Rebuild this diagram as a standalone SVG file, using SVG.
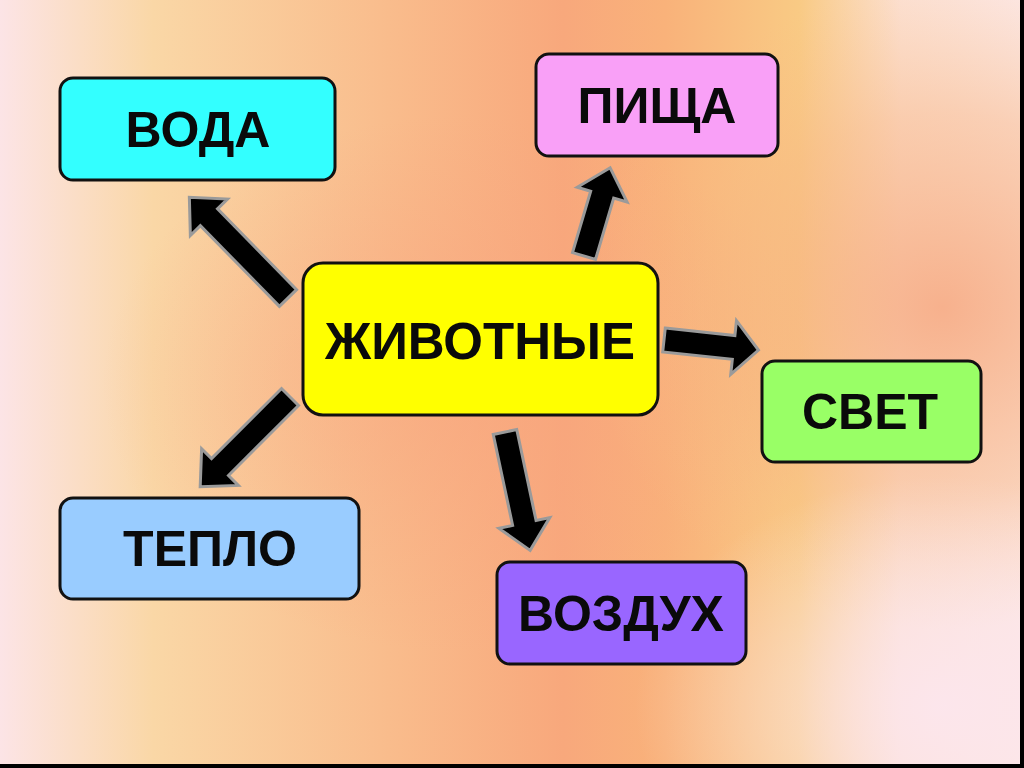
<svg xmlns="http://www.w3.org/2000/svg" width="1024" height="768" viewBox="0 0 1024 768">
<defs>
<linearGradient id="bg" x1="0" y1="0" x2="1" y2="0">
<stop offset="0" stop-color="#FCE4E6"/>
<stop offset="0.15" stop-color="#FAD7A6"/>
<stop offset="0.38" stop-color="#F9BC8C"/>
<stop offset="0.55" stop-color="#F8A87C"/>
<stop offset="0.65" stop-color="#F9B27A"/>
<stop offset="0.78" stop-color="#F9CA84"/>
<stop offset="0.88" stop-color="#FCE0D2"/>
<stop offset="1" stop-color="#FCE6E2"/>
</linearGradient>
<radialGradient id="glow1" cx="0.92" cy="0.4" r="0.35" gradientTransform="translate(0.92 0.4) scale(1 1.2) translate(-0.92 -0.4)">
<stop offset="0" stop-color="#F6A880" stop-opacity="0.85"/>
<stop offset="0.6" stop-color="#F7B583" stop-opacity="0.45"/>
<stop offset="1" stop-color="#F8C088" stop-opacity="0"/>
</radialGradient>
<radialGradient id="glow2" cx="0.92" cy="0.92" r="0.3">
<stop offset="0" stop-color="#FCE6EE" stop-opacity="0.9"/>
<stop offset="1" stop-color="#FCE6EE" stop-opacity="0"/>
</radialGradient>
<radialGradient id="glow3" cx="0.45" cy="0.5" r="0.35">
<stop offset="0" stop-color="#F8A47E" stop-opacity="0.6"/>
<stop offset="1" stop-color="#F8A47E" stop-opacity="0"/>
</radialGradient>
</defs>
<style>
.box{stroke:#111;stroke-width:3}
.lbl{font-family:"Liberation Sans",Arial,sans-serif;font-weight:bold;font-size:50px;fill:#0a0a0a;text-anchor:middle;dominant-baseline:central}
.arr{fill:#000;stroke:#9a9a9a;stroke-width:3;stroke-linejoin:miter}
</style>
<rect x="0" y="0" width="1024" height="768" fill="url(#bg)"/>
<rect x="0" y="0" width="1024" height="768" fill="url(#glow3)"/>
<rect x="0" y="0" width="1024" height="768" fill="url(#glow1)"/>
<rect x="0" y="0" width="1024" height="768" fill="url(#glow2)"/>
<rect x="1020" y="0" width="4" height="768" fill="#000"/>
<rect x="0" y="764" width="1024" height="4" fill="#000"/>

<g id="connectors">
<polygon class="arr" transform="translate(288,298) rotate(225.6)" points="0,-12 113,-12 113,-26 141,0 113,26 113,12 0,12"/>
<polygon class="arr" transform="translate(584,256) rotate(-73.5)" points="0,-12 64,-12 64,-26 92,0 64,26 64,12 0,12"/>
<polygon class="arr" transform="translate(664,340) rotate(6.1)" points="0,-12 70,-12 70,-27 95,0 70,27 70,12 0,12"/>
<polygon class="arr" transform="translate(290,397) rotate(135)" points="0,-12 99,-12 99,-26 127,0 99,26 99,12 0,12"/>
<polygon class="arr" transform="translate(505,432) rotate(78)" points="0,-12 93,-12 93,-26 121,0 93,26 93,12 0,12"/>
</g>

<g id="node-center">
<rect class="box" x="303" y="263" width="355" height="152" rx="20" fill="#FFFF00"/>
<text class="lbl" x="480" y="341" style="font-size:51px">ЖИВОТНЫЕ</text>
</g>
<g id="node-voda">
<rect class="box" x="60" y="78" width="275" height="102" rx="13" fill="#33FFFF"/>
<text class="lbl" x="198" y="130">ВОДА</text>
</g>
<g id="node-pishcha">
<rect class="box" x="536" y="54" width="242" height="102" rx="13" fill="#F9A0F7"/>
<text class="lbl" x="657" y="106">ПИЩА</text>
</g>
<g id="node-svet">
<rect class="box" x="762" y="361" width="219" height="101" rx="13" fill="#99FF66"/>
<text class="lbl" x="870" y="412">СВЕТ</text>
</g>
<g id="node-teplo">
<rect class="box" x="60" y="498" width="299" height="101" rx="13" fill="#99CCFF"/>
<text class="lbl" x="210" y="549">ТЕПЛО</text>
</g>
<g id="node-vozduh">
<rect class="box" x="497" y="562" width="249" height="102" rx="13" fill="#9966FF"/>
<text class="lbl" x="621" y="614">ВОЗДУХ</text>
</g>
</svg>
